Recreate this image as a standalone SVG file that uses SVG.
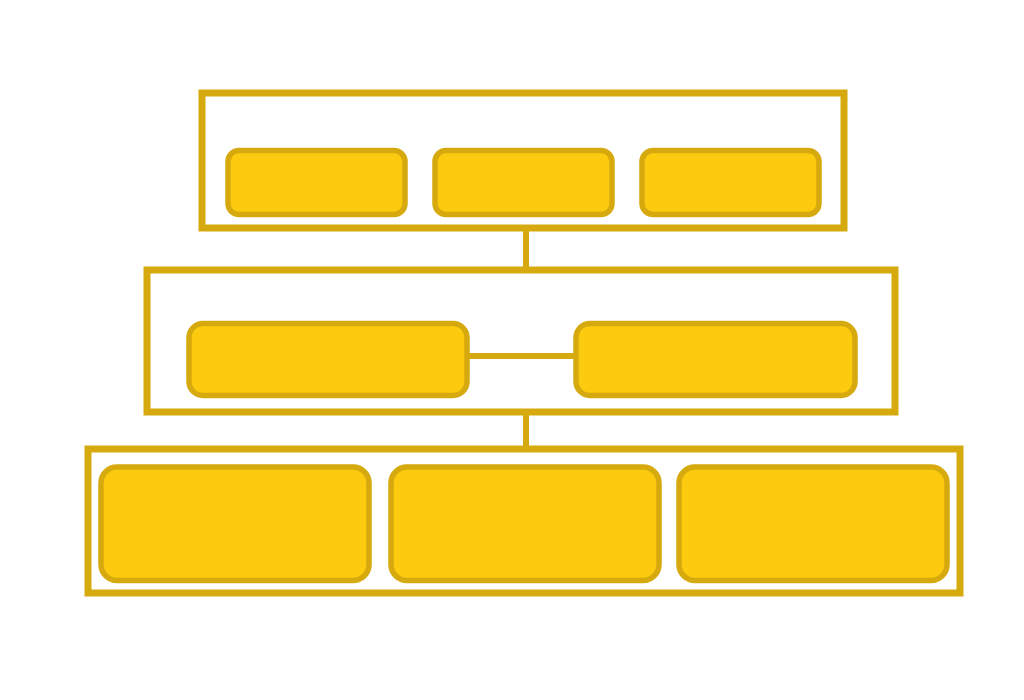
<svg xmlns="http://www.w3.org/2000/svg" width="1024" height="700" viewBox="0 0 1024 700">
<style>
.c{fill:none;stroke:#D6AA0E;stroke-width:7}
.b{fill:#FCCA0E;stroke:#D6AA0E;stroke-width:5.5}
.l{stroke:#D6AA0E;stroke-width:6;fill:none}
</style>
<rect width="1024" height="700" fill="#fff"/>
<g id="connectors">
<line class="l" x1="526" y1="228" x2="526" y2="270"/>
<line class="l" x1="526" y1="412" x2="526" y2="449"/>
<line class="l" x1="467" y1="356" x2="576" y2="356"/>
</g>
<g id="layer1">
<rect class="c" x="202" y="93" width="642" height="135"/>
</g>
<g id="n1"><rect class="b" x="228" y="150.5" width="177" height="64" rx="11"/></g>
<g id="n2"><rect class="b" x="435" y="150.5" width="177" height="64" rx="11"/></g>
<g id="n3"><rect class="b" x="642" y="150.5" width="177" height="64" rx="11"/></g>
<g id="layer2">
<rect class="c" x="147" y="270" width="748" height="142"/>
</g>
<g id="n4"><rect class="b" x="189" y="323.5" width="278" height="72" rx="14"/></g>
<g id="n5"><rect class="b" x="576" y="323.5" width="279" height="72" rx="14"/></g>
<g id="layer3">
<rect class="c" x="88" y="449" width="872" height="144"/>
</g>
<g id="n6"><rect class="b" x="101" y="467" width="268" height="113.5" rx="16"/></g>
<g id="n7"><rect class="b" x="391" y="467" width="268" height="113.5" rx="16"/></g>
<g id="n8"><rect class="b" x="679" y="467" width="268" height="113.5" rx="16"/></g>
</svg>
